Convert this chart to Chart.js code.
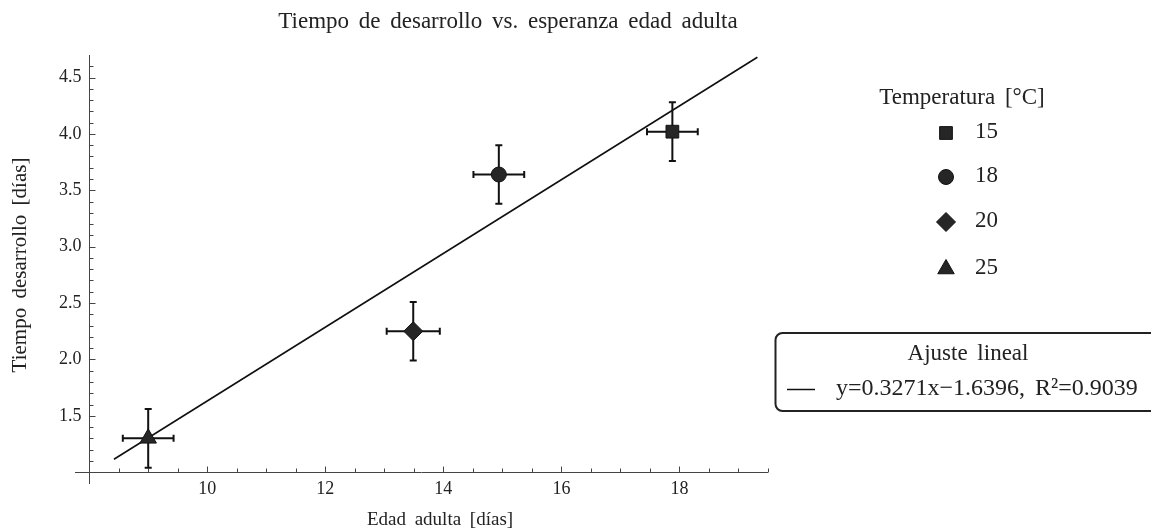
<!DOCTYPE html>
<html>
<head>
<meta charset="utf-8">
<script src="https://cdn.jsdelivr.net/npm/chart.js@4.4.0/dist/chart.umd.min.js"></script>
<style>
  html, body { margin: 0; padding: 0; background: #fff; }
</style>
</head>
<body>
<canvas id="scatterChart" width="1151" height="531"></canvas>
<script>
// measured means per temperature, with their errors
const temperatures = ['15', '18', '20', '25'];
const adultAge = [17.88, 14.94, 13.49, 9.0];
const devTime = [4.02, 3.64, 2.25, 1.30];
const adultAgeErr = [0.43, 0.43, 0.45, 0.43];
const devTimeErr = [0.26, 0.26, 0.26, 0.26];
const pointStyles = ['rect', 'circle', 'rectRot', 'triangle'];
const pointSizes = [9, 7.5, 9.5, 9.5];

// linear fit
const fitSlope = 0.3271;
const fitIntercept = -1.6396;
const fitR2 = 0.9039;
const fitRange = [8.42, 19.32];

const xTickLabels = [10, 12, 14, 16, 18];
const yTickLabels = [1.5, 2.0, 2.5, 3.0, 3.5, 4.0, 4.5];

const serif = '"Liberation Serif", "Times New Roman", serif';
const ink = '#222';
const axisX0 = 8;   // where the vertical axis crosses
const axisY0 = 1;   // where the horizontal axis crosses

const pointDatasets = temperatures.map((t, i) => ({
  label: t,
  data: [{ x: adultAge[i], y: devTime[i] }],
  pointStyle: pointStyles[i],
  pointRadius: pointSizes[i],
  pointHoverRadius: pointSizes[i],
  backgroundColor: '#262626',
  borderColor: '#111',
  borderWidth: 1,
  order: 0
}));

const fitDataset = {
  type: 'line',
  label: 'Ajuste lineal',
  data: fitRange.map(v => ({ x: v, y: fitSlope * v + fitIntercept })),
  borderColor: '#111',
  borderWidth: 1.6,
  pointRadius: 0,
  fill: false,
  order: 1
};

function fmt(v) { return v.toFixed(1); }

// Mathematica-style axes crossing inside the frame, ticks pointing inward
const axesPlugin = {
  id: 'crossAxes',
  beforeDatasetsDraw(chart) {
    const { ctx, scales: { x, y } } = chart;
    const ox = Math.round(x.getPixelForValue(axisX0)) + 0.5;
    const oy = Math.round(y.getPixelForValue(axisY0)) + 0.5;
    ctx.save();
    ctx.strokeStyle = '#444';
    ctx.lineWidth = 1;
    ctx.beginPath();
    ctx.moveTo(x.left, oy); ctx.lineTo(x.right, oy);
    ctx.moveTo(ox, y.top); ctx.lineTo(ox, y.bottom);
    // x ticks every 0.5
    for (let v = 8.5; v <= 19.51; v += 0.5) {
      const px = Math.round(x.getPixelForValue(v)) + 0.5;
      const len = Math.abs(v % 2) < 1e-6 ? 6 : 4;
      ctx.moveTo(px, oy); ctx.lineTo(px, oy - len);
    }
    // y ticks every 0.1
    for (let k = 11; k <= 46; k++) {
      const v = k / 10;
      const py = Math.round(y.getPixelForValue(v)) + 0.5;
      const len = k % 5 === 0 ? 6 : 4;
      ctx.moveTo(ox, py); ctx.lineTo(ox + len, py);
    }
    ctx.stroke();

    ctx.fillStyle = ink;
    ctx.font = '18px ' + serif;
    ctx.textAlign = 'center';
    ctx.textBaseline = 'middle';
    xTickLabels.forEach(v => ctx.fillText(String(v), x.getPixelForValue(v), 489));
    ctx.textAlign = 'right';
    yTickLabels.forEach(v => ctx.fillText(fmt(v), ox - 8, y.getPixelForValue(v)));

    // error bars
    ctx.strokeStyle = '#111';
    ctx.lineWidth = 2;
    const cap = 3.5;
    adultAge.forEach((ax, i) => {
      const cx = x.getPixelForValue(ax), cy = y.getPixelForValue(devTime[i]);
      const x1 = x.getPixelForValue(ax - adultAgeErr[i]), x2 = x.getPixelForValue(ax + adultAgeErr[i]);
      const y1 = y.getPixelForValue(devTime[i] + devTimeErr[i]), y2 = y.getPixelForValue(devTime[i] - devTimeErr[i]);
      ctx.beginPath();
      ctx.moveTo(x1, cy); ctx.lineTo(x2, cy);
      ctx.moveTo(x1, cy - cap); ctx.lineTo(x1, cy + cap);
      ctx.moveTo(x2, cy - cap); ctx.lineTo(x2, cy + cap);
      ctx.moveTo(cx, y1); ctx.lineTo(cx, y2);
      ctx.moveTo(cx - cap, y1); ctx.lineTo(cx + cap, y1);
      ctx.moveTo(cx - cap, y2); ctx.lineTo(cx + cap, y2);
      ctx.stroke();
    });
    ctx.restore();
  },
  afterDraw(chart) {
    const { ctx } = chart;
    ctx.save();
    ctx.fillStyle = ink;
    ctx.textBaseline = 'middle';
    ctx.wordSpacing = '4px';
    ctx.textAlign = 'center';

    ctx.font = '23px ' + serif;
    ctx.fillText('Tiempo de desarrollo vs. esperanza edad adulta', 508, 22);
    ctx.font = '19px ' + serif;
    ctx.fillText('Edad adulta [días]', 440, 520);
    ctx.save();
    ctx.font = '21px ' + serif;
    ctx.translate(20, 265);
    ctx.rotate(-Math.PI / 2);
    ctx.fillText('Tiempo desarrollo [días]', 0, 0);
    ctx.restore();

    // temperature legend
    ctx.font = '23px ' + serif;
    ctx.fillText('Temperatura [°C]', 962, 98);
    const rows = [133, 177, 222, 269];
    ctx.textAlign = 'left';
    temperatures.forEach((t, i) => {
      const ds = pointDatasets[i];
      ctx.fillStyle = ds.backgroundColor;
      ctx.strokeStyle = ds.borderColor;
      ctx.lineWidth = 1;
      Chart.helpers.drawPoint(ctx, {
        pointStyle: ds.pointStyle, radius: pointSizes[i], borderWidth: 1, rotation: 0
      }, 946, rows[i]);
      ctx.fillStyle = ink;
      ctx.fillText(t, 975, rows[i] - 1);
    });

    // fit legend box
    ctx.strokeStyle = '#222';
    ctx.lineWidth = 2;
    ctx.beginPath();
    ctx.roundRect(775.5, 333, 400, 78, 7);
    ctx.stroke();
    ctx.textAlign = 'center';
    ctx.fillText('Ajuste lineal', 968, 354);
    ctx.strokeStyle = '#111';
    ctx.lineWidth = 1.5;
    ctx.beginPath();
    ctx.moveTo(787, 389.5); ctx.lineTo(815, 389.5);
    ctx.stroke();
    ctx.textAlign = 'left';
    ctx.font = '24px ' + serif;
    ctx.fillText('y=' + fitSlope.toFixed(4) + 'x\u2212' + Math.abs(fitIntercept).toFixed(4) +
      ', R\u00b2=' + fitR2.toFixed(4), 836, 389);
    ctx.restore();
  }
};

new Chart(document.getElementById('scatterChart'), {
  type: 'scatter',
  data: { datasets: [...pointDatasets, fitDataset] },
  options: {
    responsive: false,
    animation: false,
    layout: { padding: { left: 75, top: 55, right: 383, bottom: 47 } },
    plugins: {
      legend: { display: false },
      title: { display: false },
      tooltip: { enabled: false }
    },
    scales: {
      x: { type: 'linear', min: 7.76, max: 19.5, display: false },
      y: { type: 'linear', min: 0.895, max: 4.7, display: false }
    }
  },
  plugins: [axesPlugin]
});
</script>
</body>
</html>
